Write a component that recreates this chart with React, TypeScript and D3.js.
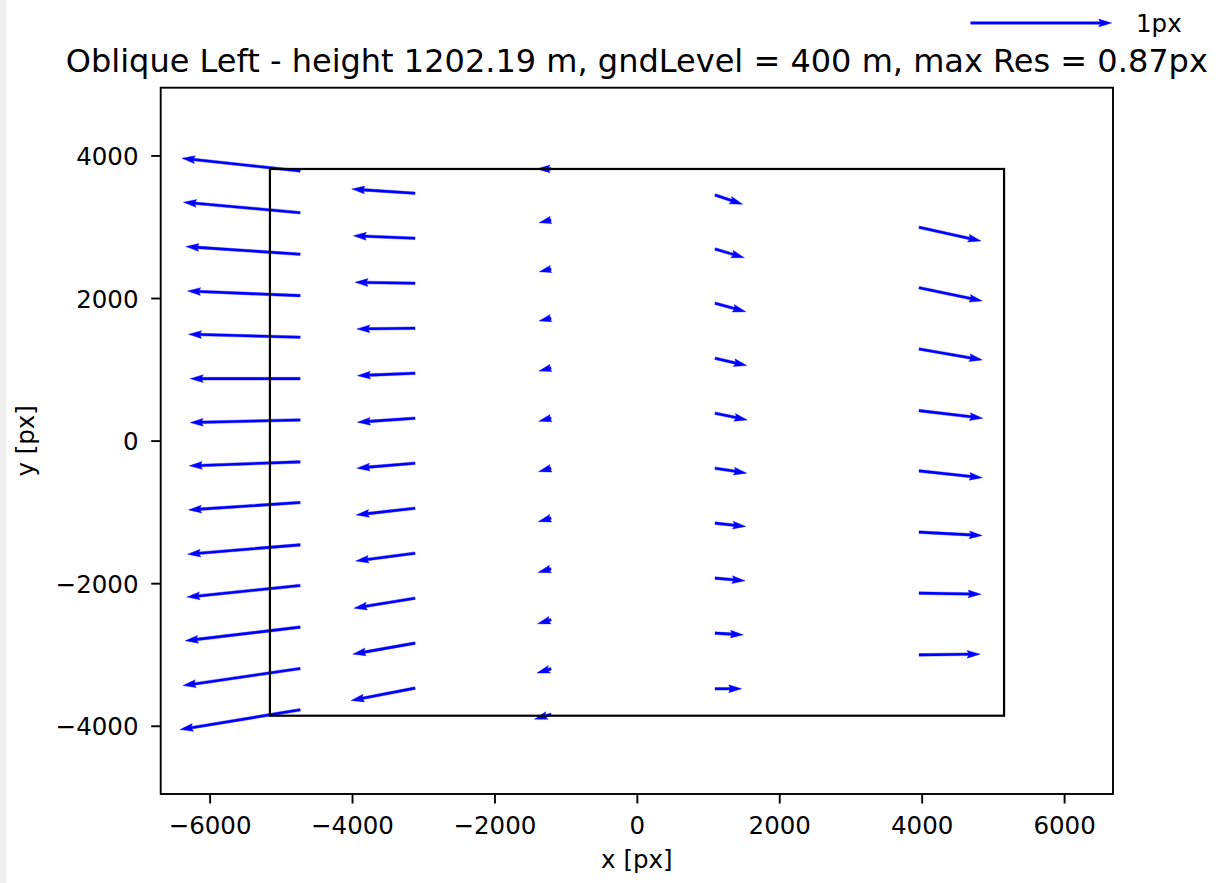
import React, { useEffect, useRef } from "react";
import * as d3 from "d3";

const title = "Oblique Left - height 1202.19 m, gndLevel = 400 m, max Res = 0.87px";
const xAxisLabel = "x [px]";
const yAxisLabel = "y [px]";
const keyLabel = "1px";
const keyValue = 1;

const xTicks = [-6000, -4000, -2000, 0, 2000, 4000, 6000];
const yTicks = [-4000, -2000, 0, 2000, 4000];
const xDomain = [-6694, 6680];
const yDomain = [-4950, 4957];

// image frame corners
const frameX = [-5160, 5150];
const frameY = [-3852, 3817];

// quiver grid: tail x per column, tail y per row, residuals in px
const columnX = [-4735, -3122, -1212, 1091, 3956];

const rowY = [
  [3789, 3204, 2621, 2040, 1457, 876, 297, -292, -862, -1455, -2026, -2609, -3190, -3769],
  [3476, 2845, 2214, 1583, 952, 321, -310, -941, -1572, -2203, -2834, -3465],
  [3818, 3102, 2414, 1725, 1026, 323, -381, -1080, -1792, -2507, -3194, -3832],
  [3452, 2695, 1934, 1162, 391, -380, -1151, -1922, -2694, -3474],
  [2999, 2152, 1293, 428, -418, -1277, -2133, -2998],
];

const resU = [
  [-0.839, -0.828, -0.811, -0.799, -0.792, -0.78, -0.78, -0.787, -0.792, -0.799, -0.804, -0.816, -0.832, -0.852],
  [-0.449, -0.438, -0.426, -0.413, -0.409, -0.409, -0.413, -0.418, -0.421, -0.433, -0.442, -0.454],
  [-0.1, -0.085, -0.084, -0.085, -0.086, -0.087, -0.089, -0.091, -0.093, -0.096, -0.1, -0.118],
  [0.196, 0.208, 0.218, 0.225, 0.229, 0.225, 0.218, 0.213, 0.201, 0.189],
  [0.44, 0.449, 0.449, 0.452, 0.449, 0.449, 0.44, 0.433],
];

const resV = [
  [0.09, 0.074, 0.054, 0.033, 0.021, 0, -0.019, -0.028, -0.052, -0.066, -0.082, -0.097, -0.121, -0.14],
  [0.03, 0.018, 0.007, -0.005, -0.017, -0.028, -0.035, -0.048, -0.055, -0.071, -0.078, -0.088],
  [0, -0.02, -0.02, -0.021, -0.022, -0.023, -0.024, -0.025, -0.026, -0.028, -0.03, -0.035],
  [-0.066, -0.062, -0.06, -0.052, -0.048, -0.035, -0.024, -0.019, -0.012, 0],
  [-0.097, -0.094, -0.078, -0.054, -0.048, -0.024, -0.007, 0.005],
];

// data units per 1 px residual (quiver scale)
const quiverScale = 1980;

const fmt = (d: number) => (d < 0 ? "\u2212" + Math.abs(d) : String(d));

// matplotlib-style quiver arrow polygon, w = shaft width in screen px
const arrowPath = (x0: number, y0: number, x1: number, y1: number, w: number) => {
  const headwidth = 3, headlength = 5, headaxislength = 4.5, minsh = 5, minlength = 1;
  const dx = x1 - x0, dy = y1 - y0;
  const len = Math.hypot(dx, dy) / w;
  const ang = Math.atan2(dy, dx);
  let pts: [number, number][];
  if (len < minlength) {
    pts = d3.range(6).map(i => [Math.cos(i * Math.PI / 3) * 0.5, Math.sin(i * Math.PI / 3) * 0.5] as [number, number]);
  } else if (len < minsh) {
    const s = len / minsh;
    pts = [
      [0, 0.5], [minsh - headaxislength, 0.5], [minsh - headlength, headwidth / 2], [minsh, 0],
      [minsh - headlength, -headwidth / 2], [minsh - headaxislength, -0.5], [0, -0.5],
    ].map(p => [p[0] * s, p[1] * s] as [number, number]);
  } else {
    pts = [
      [0, 0.5], [len - headaxislength, 0.5], [len - headlength, headwidth / 2], [len, 0],
      [len - headlength, -headwidth / 2], [len - headaxislength, -0.5], [0, -0.5],
    ];
  }
  const c = Math.cos(ang), s = Math.sin(ang);
  const out = pts.map(([px, py]) => [x0 + w * (px * c - py * s), y0 + w * (px * s + py * c)] as [number, number]);
  return d3.line()(out) + "Z";
};

const App = () => {
  const ref = useRef<SVGGElement>(null);

  useEffect(() => {
    const group = d3.select(ref.current);
    group.selectAll("*").remove();

    const width = 1216;
    const height = 883;
    const margin = { top: 87.7, right: 103, bottom: 89, left: 160.7 };
    const font = "DejaVu Sans, sans-serif";
    const shaft = 2.6;

    const xScale = d3.scaleLinear().domain(xDomain).range([margin.left, width - margin.right]);
    const yScale = d3.scaleLinear().domain(yDomain).range([height - margin.bottom, margin.top]);
    const x0 = xScale.range()[0], x1 = xScale.range()[1];
    const yb = yScale.range()[0], yt = yScale.range()[1];

    group.append("rect").attr("width", width).attr("height", height).attr("fill", "#fff");
    group.append("rect").attr("width", 6).attr("height", height).attr("fill", "#f0f0f0");

    // quiver arrows
    const arrows: { x: number; y: number; u: number; v: number }[] = [];
    columnX.forEach((cx, i) => {
      rowY[i].forEach((ry, j) => arrows.push({ x: cx, y: ry, u: resU[i][j], v: resV[i][j] }));
    });

    group.append("g")
      .selectAll("path")
      .data(arrows)
      .enter().append("path")
        .attr("d", d => arrowPath(
          xScale(d.x), yScale(d.y),
          xScale(d.x + d.u * quiverScale), yScale(d.y + d.v * quiverScale), shaft))
        .attr("fill", "#0000ff")
        .attr("stroke", "#0000ff")
        .attr("stroke-width", 0.4)
        .attr("stroke-linejoin", "round");

    // image frame
    group.append("rect")
      .attr("x", xScale(frameX[0]))
      .attr("y", yScale(frameY[1]))
      .attr("width", xScale(frameX[1]) - xScale(frameX[0]))
      .attr("height", yScale(frameY[0]) - yScale(frameY[1]))
      .attr("fill", "none")
      .attr("stroke", "#000")
      .attr("stroke-width", 2.2);

    // axes frame
    group.append("rect")
      .attr("x", x0).attr("y", yt)
      .attr("width", x1 - x0).attr("height", yb - yt)
      .attr("fill", "none").attr("stroke", "#000").attr("stroke-width", 1.9);

    const tickLen = 9.5;
    const xAxisG = group.append("g");
    xAxisG.selectAll("line")
      .data(xTicks)
      .enter().append("line")
        .attr("x1", d => xScale(d)).attr("x2", d => xScale(d))
        .attr("y1", yb).attr("y2", yb + tickLen)
        .attr("stroke", "#000").attr("stroke-width", 1.9);
    xAxisG.selectAll("text")
      .data(xTicks)
      .enter().append("text")
        .attr("x", d => xScale(d))
        .attr("y", 834)
        .attr("text-anchor", "middle")
        .attr("font-family", font).attr("font-size", 24.5)
        .attr("fill", "#000")
        .text(fmt);

    const yAxisG = group.append("g");
    yAxisG.selectAll("line")
      .data(yTicks)
      .enter().append("line")
        .attr("x1", x0 - tickLen).attr("x2", x0)
        .attr("y1", d => yScale(d)).attr("y2", d => yScale(d))
        .attr("stroke", "#000").attr("stroke-width", 1.9);
    yAxisG.selectAll("text")
      .data(yTicks)
      .enter().append("text")
        .attr("x", 138.5)
        .attr("y", d => yScale(d) + 9)
        .attr("text-anchor", "end")
        .attr("font-family", font).attr("font-size", 24.5)
        .attr("fill", "#000")
        .text(fmt);

    group.append("text")
      .attr("x", (x0 + x1) / 2).attr("y", 868)
      .attr("text-anchor", "middle")
      .attr("font-family", font).attr("font-size", 24.5)
      .text(xAxisLabel);

    group.append("text")
      .attr("transform", `translate(34, ${(yt + yb) / 2}) rotate(-90)`)
      .attr("text-anchor", "middle")
      .attr("font-family", font).attr("font-size", 24.5)
      .text(yAxisLabel);

    group.append("text")
      .attr("x", (x0 + x1) / 2).attr("y", 72)
      .attr("text-anchor", "middle")
      .attr("font-family", font).attr("font-size", 32)
      .text(title);

    // quiver key
    const keyTail = 970.7;
    const keyY = 23;
    const keyLen = xScale(keyValue * quiverScale) - xScale(0);
    group.append("path")
      .attr("d", arrowPath(keyTail, keyY, keyTail + keyLen, keyY, shaft))
      .attr("fill", "#0000ff")
      .attr("stroke", "#0000ff")
      .attr("stroke-width", 0.4);
    group.append("text")
      .attr("x", 1136).attr("y", 31.5)
      .attr("font-family", font).attr("font-size", 24.5)
      .text(keyLabel);
  }, []);

  return (
    <div style={{ position: "absolute", left: 0, top: 0 }}>
      <svg width={1216} height={883} style={{ display: "block" }}>
        <g ref={ref} />
      </svg>
    </div>
  );
};

export default App;
